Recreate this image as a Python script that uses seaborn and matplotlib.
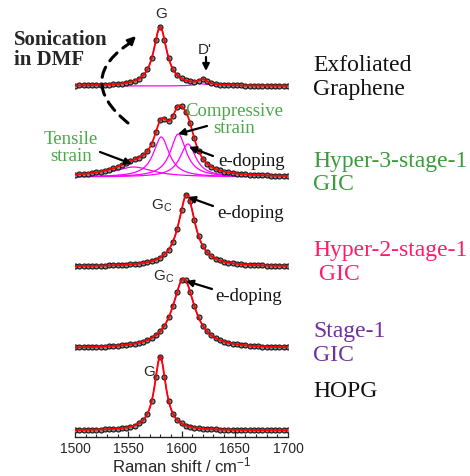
import numpy as np
import pandas as pd
import matplotlib
matplotlib.use("Agg")
import matplotlib.pyplot as plt
from matplotlib.ticker import MultipleLocator
from matplotlib.patches import FancyArrowPatch
import seaborn as sns

# ---------------- data ----------------
shift = np.arange(1500, 1701, 4)          # Raman shift grid of the measured points (cm-1)

hopg = [0.5, 0.5, 0.6, 0.7, 0.8, 0.9, 1.0, 1.1, 1.3, 1.6,
        1.9, 2.3, 2.9, 3.7, 5.0, 7.1, 10.4, 16.8, 29.4, 53.7,
        74.0, 53.7, 29.4, 16.8, 10.4, 7.1, 5.0, 3.7, 2.9, 2.3,
        1.9, 1.6, 1.3, 1.1, 1.0, 0.9, 0.8, 0.7, 0.6, 0.5,
        0.5, 0.4, 0.4, 0.4, 0.3, 0.3, 0.3, 0.3, 0.3, 0.2, 0.2]
stage1 = [1.0, 1.1, 1.2, 1.3, 1.5, 1.6, 1.8, 1.9, 2.2, 2.4,
          2.7, 3.1, 3.6, 4.1, 4.8, 5.7, 6.8, 8.3, 10.4, 13.1,
          17.1, 22.8, 31.1, 42.7, 56.9, 68.3, 68.3, 56.9, 42.7, 31.1,
          22.8, 17.1, 13.1, 10.4, 8.3, 6.8, 5.7, 4.8, 4.1, 3.6,
          3.1, 2.7, 2.4, 2.2, 1.9, 1.8, 1.6, 1.5, 1.3, 1.2, 1.1]
hyper2 = [0.6, 0.6, 0.7, 0.7, 0.8, 0.9, 1.0, 1.1, 1.2, 1.3,
          1.5, 1.7, 2.0, 2.2, 2.6, 3.1, 3.7, 4.5, 5.5, 7.0,
          9.1, 12.2, 17.1, 25.1, 38.0, 56.4, 71.2, 65.5, 46.7, 30.8,
          20.6, 14.4, 10.5, 7.9, 6.2, 4.9, 4.0, 3.4, 2.8, 2.4,
          2.1, 1.8, 1.6, 1.4, 1.3, 1.1, 1.0, 0.9, 0.9, 0.8, 0.7]
hyper3 = [2.5, 2.8, 3.1, 3.5, 4.0, 4.6, 5.4, 6.3, 7.4, 8.7,
          10.3, 12.1, 14.0, 15.9, 17.6, 19.3, 21.8, 25.8, 33.4, 45.2,
          56.8, 58.3, 56.1, 61.3, 70.1, 70.9, 65.3, 54.3, 38.7, 26.3,
          18.4, 13.5, 10.3, 8.2, 6.6, 5.5, 4.7, 4.0, 3.5, 3.0,
          2.7, 2.4, 2.1, 1.9, 1.8, 1.6, 1.5, 1.4, 1.3, 1.2, 1.1]
exfol = [0.5, 0.6, 0.6, 0.7, 0.8, 0.9, 1.0, 1.2, 1.4, 1.7,
         2.0, 2.5, 3.1, 4.0, 5.3, 7.3, 10.6, 16.6, 27.6, 45.9,
         59.0, 45.9, 27.6, 16.8, 10.8, 7.6, 5.7, 4.7, 4.5, 5.5,
         7.0, 4.7, 2.8, 1.9, 1.5, 1.2, 1.0, 0.9, 0.7, 0.6,
         0.5, 0.5, 0.4, 0.4, 0.4, 0.3, 0.3, 0.3, 0.3, 0.2, 0.2]

# Lorentzian fit components: centres (cm-1), half widths (cm-1), heights
hopg_c, hopg_w, hopg_a = [1580], [6.5], [74]
stage1_c, stage1_w, stage1_a = [1602], [12.5], [70]
hyper2_c, hyper2_w, hyper2_a = [1605], [9.5], [72]
hyper3_c, hyper3_w, hyper3_a = [1555, 1581, 1597, 1606], [22, 9, 9, 9], [10, 40, 43, 33]
exfol_c, exfol_w, exfol_a = [1580, 1620], [7.5, 5], [59, 5]

# vertical stacking offsets of the spectra
offsets = [6.2, 88.3, 170.1, 259.7, 350.7]

names = ["HOPG", "Stage-1\nGIC", "Hyper-2-stage-1\n GIC", "Hyper-3-stage-1\nGIC", "Exfoliated\nGraphene"]
name_colors = ["#111111", "#7030a0", "#ff1a6a", "#3a9c3a", "#111111"]

spectra = [hopg, stage1, hyper2, hyper3, exfol]
fits = [(hopg_c, hopg_w, hopg_a), (stage1_c, stage1_w, stage1_a), (hyper2_c, hyper2_w, hyper2_a),
        (hyper3_c, hyper3_w, hyper3_a), (exfol_c, exfol_w, exfol_a)]

# ---------------- styling ----------------
sns.set_style("white")
plt.rcParams["font.family"] = ["Liberation Sans", "DejaVu Sans"]
plt.rcParams["mathtext.fontset"] = "custom"
plt.rcParams["mathtext.rm"] = "Liberation Sans"
plt.rcParams["mathtext.it"] = "Liberation Sans:italic"

W, H = 470, 477
fig = plt.figure(figsize=(W / 100, H / 100), dpi=100)
ax_bottom_px = 437.7
ax = fig.add_axes([75 / W, (H - ax_bottom_px) / H, 213 / W, ax_bottom_px / H])

xs = np.linspace(1500, 1700, 801)


def lorentz(x, c, w, a):
    return a / (1.0 + ((x - c) / w) ** 2)


for vals, (cs, ws, as_), off in zip(spectra, fits, offsets):
    comps = [lorentz(xs, c, w, a) for c, w, a in zip(cs, ws, as_)]
    for comp in comps:
        sns.lineplot(x=xs, y=comp + off, color="#ff00ff", lw=0.9, ax=ax, zorder=1, errorbar=None)
    df = pd.DataFrame({"shift": shift, "intensity": np.asarray(vals) + off})
    sns.scatterplot(data=df, x="shift", y="intensity", marker="o", s=13, color="#8c8c8c",
                    edgecolor="#141414", linewidth=0.8, ax=ax, zorder=2)
    sns.lineplot(x=xs, y=np.sum(comps, axis=0) + off, color="#ff0000", lw=1.3, ax=ax,
                 zorder=3, errorbar=None)

ax.set_xlim(1500, 1700)
ax.set_ylim(0, ax_bottom_px)
ax.set_xticks([1500, 1550, 1600, 1650, 1700])
ax.xaxis.set_minor_locator(MultipleLocator(10))
ax.tick_params(axis="x", which="major", direction="in", length=4, width=0.9, labelsize=10, pad=3,
               bottom=True)
ax.tick_params(axis="x", which="minor", direction="in", length=2, width=0.8, bottom=True)
ax.set_yticks([])
for s in ["left", "top", "right"]:
    ax.spines[s].set_visible(False)
ax.spines["bottom"].set_linewidth(1.0)
ax.spines["bottom"].set_color("#222222")
ax.set_xlabel(r"Raman shift / cm$^{-1}$", fontsize=12, labelpad=0)
ax.set_ylabel("")


def P(px, py):
    return (px, H - py)


# right-hand sample names
name_y = [392, 343.5, 262.5, 173, 77.5]
for nm, col, py in zip(names, name_colors, name_y):
    fig.text(313 / W, 1 - py / H, nm, family="Liberation Serif", fontsize=17, color=col,
             ha="left", va="center", linespacing=1.15)

serif = dict(family="Liberation Serif")
green = "#4aa84a"

# sonication label
fig.text(14 / W, 1 - 50 / H, "Sonication\nin DMF", fontweight="bold", fontsize=15,
         ha="left", va="center", linespacing=1.05, **serif)

# peak labels
fig.text(161 / W, 1 - 14 / H, "G", fontsize=11, ha="center", va="center")
fig.text(205 / W, 1 - 50 / H, "D'", fontsize=11, ha="center", va="center")
fig.text(162 / W, 1 - 206 / H, r"G$_\mathregular{C}$", fontsize=11, ha="center", va="center")
fig.text(164 / W, 1 - 277 / H, r"G$_\mathregular{C}$", fontsize=11, ha="center", va="center")
fig.text(149 / W, 1 - 372 / H, "G", fontsize=11, ha="center", va="center")

fig.text(234 / W, 1 - 120 / H, "Compressive\nstrain", fontsize=13.5, color=green, ha="center",
         va="center", linespacing=1.0, **serif)
fig.text(71 / W, 1 - 148 / H, "Tensile\nstrain", fontsize=13.5, color=green, ha="center",
         va="center", linespacing=1.05, **serif)
for lx, ly in [(218, 162), (217, 213), (215, 297)]:
    fig.text(lx / W, 1 - ly / H, "e-doping", fontsize=13.5, color="#111111", ha="left",
             va="center", **serif)

arrows = [((206, 58), (206, 72)),
          ((207, 127), (178, 135)),
          ((100, 153), (132, 165)),
          ((213, 157), (189, 148)),
          ((213, 207), (188, 198)),
          ((212, 290), (186, 282))]
for tail, head in arrows:
    ax.annotate("", xy=P(*head), xycoords="figure pixels", xytext=P(*tail),
                textcoords="figure pixels",
                arrowprops=dict(arrowstyle="-|>", color="black", lw=1.6, mutation_scale=10,
                                shrinkA=0, shrinkB=0), annotation_clip=False)

# dashed curved arrow (sonication)
A = P(128, 124)
B = P(133, 42)
arc = FancyArrowPatch(A, B, transform=None, connectionstyle="arc3,rad=-0.7", arrowstyle="-",
                      linestyle=(0, (3.5, 2.5)), lw=2.2, color="black", shrinkA=0, shrinkB=0)
fig.patches.append(arc)
ax.annotate("", xy=P(136, 37), xycoords="figure pixels", xytext=P(129, 44),
            textcoords="figure pixels",
            arrowprops=dict(arrowstyle="-|>", color="black", lw=1.8, mutation_scale=12,
                            shrinkA=0, shrinkB=0), annotation_clip=False)

fig.savefig("out.png", dpi=100)
